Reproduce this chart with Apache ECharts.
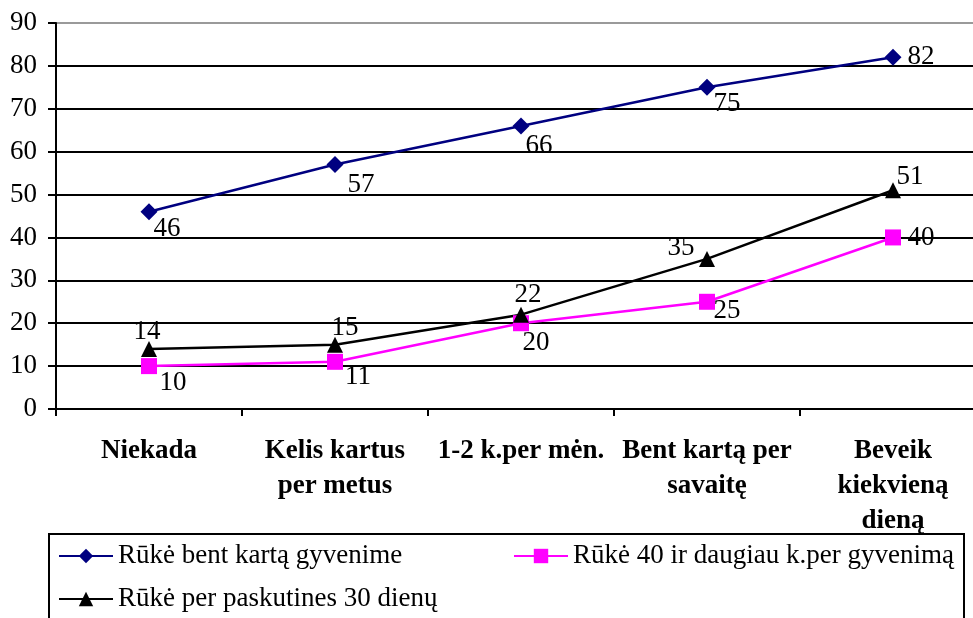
<!DOCTYPE html>
<html>
<head>
<meta charset="utf-8">
<script src="https://cdn.jsdelivr.net/npm/echarts@6/dist/echarts.min.js"></script>
<style>
html,body{margin:0;padding:0;background:#fff;}
#chart{width:973px;height:618px;}
</style>
</head>
<body>
<div id="chart"></div>
<script>
// ---- data ----
const categories = ['Niekada', 'Kelis kartus\nper metus', '1-2 k.per mėn.', 'Bent kartą per\nsavaitę', 'Beveik\nkiekvieną\ndieną'];
const seriesNames = ['Rūkė bent kartą gyvenime', 'Rūkė 40 ir daugiau k.per gyvenimą', 'Rūkė per paskutines 30 dienų'];
const everSmoked = [46, 57, 66, 75, 82];
const smoked40 = [10, 11, 20, 25, 40];
const smoked30days = [14, 15, 22, 35, 51];
const yTicks = [0, 10, 20, 30, 40, 50, 60, 70, 80, 90];

// ---- label placement (style only) ----
const offEver = [[18, 17], [26, 20], [18, 20], [20, 17], [28, 0]];
const off40 = [[24, 17], [23, 15], [15, 20], [20, 9], [28, 0]];
const off30 = [[-2, -17], [10, -17], [7, -20], [-26, -11], [17, -13]];

const FONT = "'Liberation Serif','Times New Roman',serif";

function withLabels(values, offsets) {
  return values.map((v, i) => ({
    value: v,
    label: { offset: offsets[i] }
  }));
}

const labelBase = {
  show: true,
  position: 'inside',
  color: '#000',
  fontFamily: FONT,
  fontSize: 27
};

const chart = echarts.init(document.getElementById('chart'), null, { renderer: 'canvas' });

const splitColors = yTicks.map((t, i) => (i === yTicks.length - 1 ? '#9a9a9a' : '#000'));

const legendText = { fontFamily: FONT, fontSize: 27, color: '#000', lineHeight: 30 };
const legendCommon = {
  itemWidth: 54, itemHeight: 18, itemGap: 5, padding: 0,
  lineStyle: { width: 2 },
  textStyle: legendText
};

const option = {
  animation: false,
  backgroundColor: '#fff',
  textStyle: { fontFamily: FONT },
  grid: { left: 56, top: 23, width: 930, height: 386, outerBoundsMode: 'none' },
  xAxis: {
    type: 'category',
    data: categories,
    boundaryGap: true,
    axisLine: { show: true, lineStyle: { color: '#000', width: 2 } },
    axisTick: { show: true, length: 7, lineStyle: { color: '#000', width: 2 } },
    axisLabel: {
      interval: 0,
      margin: 25,
      color: '#000',
      fontFamily: FONT,
      fontSize: 27,
      fontWeight: 'bold',
      lineHeight: 35,
      align: 'center'
    },
    splitLine: { show: false }
  },
  yAxis: {
    type: 'value',
    min: yTicks[0],
    max: yTicks[yTicks.length - 1],
    interval: 10,
    axisLine: { show: true, lineStyle: { color: '#000', width: 2 } },
    axisTick: { show: true, length: 8, lineStyle: { color: '#000', width: 2 } },
    axisLabel: { margin: 19, color: '#000', fontFamily: FONT, fontSize: 27 },
    splitLine: { show: true, lineStyle: { color: splitColors, width: 2 } }
  },
  legend: [
    Object.assign({ data: [seriesNames[0]], left: 58, top: 541 }, legendCommon),
    Object.assign({ data: [seriesNames[1]], left: 513, top: 541 }, legendCommon),
    Object.assign({ data: [seriesNames[2]], left: 58, top: 584 }, legendCommon)
  ],
  graphic: [
    {
      type: 'rect',
      shape: { x: 49, y: 534, width: 915, height: 120 },
      style: { fill: 'none', stroke: '#000', lineWidth: 2 },
      z: -1
    }
  ],
  series: [
    {
      name: seriesNames[0],
      type: 'line',
      data: withLabels(everSmoked, offEver),
      symbol: 'diamond',
      symbolSize: 17,
      color: '#000080',
      lineStyle: { color: '#000080', width: 2.5 },
      itemStyle: { color: '#000080' },
      label: labelBase
    },
    {
      name: seriesNames[1],
      type: 'line',
      data: withLabels(smoked40, off40),
      symbol: 'rect',
      symbolSize: 16,
      color: '#FF00FF',
      lineStyle: { color: '#FF00FF', width: 2.5 },
      itemStyle: { color: '#FF00FF' },
      label: labelBase
    },
    {
      name: seriesNames[2],
      type: 'line',
      data: withLabels(smoked30days, off30),
      symbol: 'triangle',
      symbolSize: 16,
      color: '#000',
      lineStyle: { color: '#000', width: 2.5 },
      itemStyle: { color: '#000' },
      label: labelBase
    }
  ]
};

chart.setOption(option);
</script>
</body>
</html>
